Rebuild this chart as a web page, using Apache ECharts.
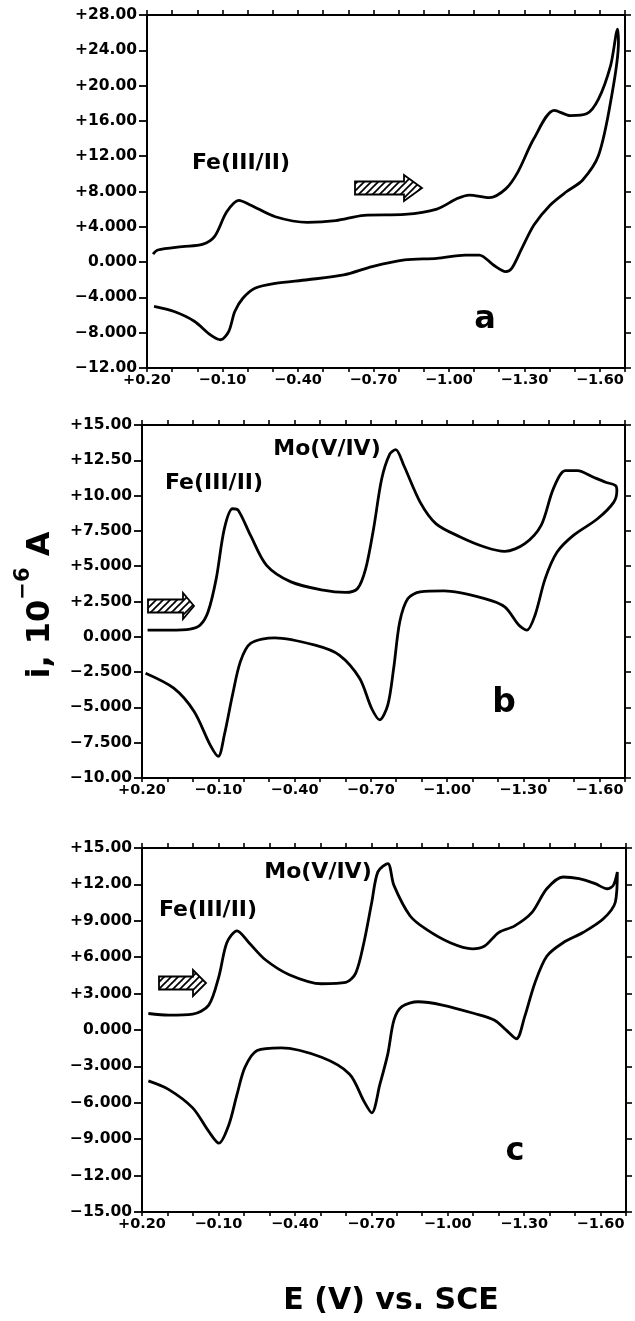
<!DOCTYPE html>
<html>
<head>
<meta charset="utf-8">
<script src="https://cdn.jsdelivr.net/npm/echarts@6/dist/echarts.min.js"></script>
<style>
html, body { margin: 0; padding: 0; background: #fff; }
#chart { width: 635px; height: 1321px; }
</style>
</head>
<body>
<div id="chart"></div>
<script>
'use strict';

// E in V vs. SCE, i in 10^-6 A; forward scan to -1.7 V, then the return scan
const aE = [0.176, 0.157, 0.06, -0.02, -0.068, -0.117, -0.165, -0.213, -0.31, -0.438, -0.55, -0.663, -0.824, -0.952, -1.033, -1.081, -1.161, -1.226, -1.274, -1.338, -1.419, -1.483, -1.547, -1.595, -1.643, -1.671,
    -1.674, -1.645, -1.595, -1.531, -1.467, -1.402, -1.338, -1.29, -1.25, -1.226, -1.177, -1.121, -1.065, -0.952, -0.824, -0.695, -0.582, -0.438, -0.31, -0.229, -0.181, -0.149, -0.125, -0.093, -0.052, 0.012, 0.092, 0.172];
const aI = [0.9, 1.37, 1.75, 2.0, 2.88, 5.7, 7.0, 6.45, 5.14, 4.5, 4.7, 5.3, 5.4, 6.0, 7.2, 7.6, 7.3, 8.3, 10.2, 14.0, 17.2, 16.6, 16.8, 18.5, 22.3, 26.4,
    24.9, 18.5, 12.1, 9.28, 7.97, 6.45, 4.2, 1.56, -0.7, -1.07, -0.33, 0.8, 0.8, 0.43, 0.24, -0.51, -1.45, -2.0, -2.4, -2.96, -4.1, -5.6, -7.85, -8.8, -8.24, -6.7, -5.6, -5.03];

const bE = [0.178, 0.09, 0.011, -0.029, -0.06, -0.092, -0.124, -0.156, -0.179, -0.227, -0.29, -0.386, -0.513, -0.6, -0.648, -0.68, -0.711, -0.743, -0.775, -0.798, -0.83, -0.894, -0.957, -1.052, -1.148, -1.227, -1.306, -1.37, -1.418, -1.465, -1.513, -1.576, -1.624, -1.663, -1.668,
    -1.656, -1.592, -1.497, -1.433, -1.386, -1.346, -1.314, -1.282, -1.227, -1.148, -0.989, -0.894, -0.846, -0.814, -0.79, -0.767, -0.735, -0.703, -0.656, -0.576, -0.481, -0.322, -0.227, -0.187, -0.156, -0.124, -0.1, -0.068, -0.005, 0.075, 0.186];
const bI = [0.47, 0.47, 0.54, 0.83, 1.77, 4.12, 7.66, 9.07, 8.95, 7.18, 5.06, 3.89, 3.3, 3.14, 3.42, 4.83, 7.66, 11.19, 12.95, 13.26, 12.13, 9.54, 8.0, 7.07, 6.36, 6.05, 6.6, 7.89, 10.48, 11.77, 11.77, 11.3, 10.95, 10.71, 10.36,
    9.54, 8.36, 7.18, 6.0, 4.12, 1.53, 0.47, 0.83, 2.12, 2.71, 3.25, 3.18, 2.71, 1.06, -2.23, -4.82, -5.88, -5.06, -2.94, -1.29, -0.59, -0.07, -0.47, -1.76, -4.12, -6.94, -8.47, -7.65, -5.29, -3.64, -2.58];

const cE = [0.175, 0.096, 0.001, -0.062, -0.102, -0.133, -0.173, -0.22, -0.283, -0.378, -0.505, -0.6, -0.639, -0.671, -0.702, -0.726, -0.765, -0.789, -0.852, -0.915, -1.01, -1.097, -1.145, -1.2, -1.263, -1.331, -1.389, -1.453, -1.516, -1.579, -1.626, -1.65, -1.666,
    -1.658, -1.61, -1.531, -1.453, -1.389, -1.342, -1.302, -1.27, -1.231, -1.184, -1.105, -0.979, -0.884, -0.82, -0.789, -0.765, -0.734, -0.702, -0.671, -0.615, -0.505, -0.346, -0.252, -0.204, -0.173, -0.141, -0.102, -0.062, 0.001, 0.096, 0.175];
const cI = [1.36, 1.22, 1.3, 2.05, 4.42, 7.19, 8.17, 7.19, 5.81, 4.56, 3.81, 3.92, 4.69, 7.19, 10.53, 13.03, 13.72, 11.92, 9.42, 8.31, 7.19, 6.69, 6.92, 8.03, 8.58, 9.69, 11.64, 12.61, 12.47, 12.06, 11.64, 11.92, 13.03,
    10.53, 9.14, 8.03, 7.19, 6.08, 3.86, 1.08, -0.72, -0.03, 0.81, 1.36, 2.06, 2.33, 1.92, 0.81, -1.97, -4.47, -6.83, -5.86, -3.64, -2.25, -1.47, -1.69, -3.08, -5.31, -7.81, -9.33, -8.36, -6.42, -4.89, -4.19];

// current axis ranges per panel
const iMin = [-12, -10, -15];
const iMax = [28, 15, 15];
const iStep = [4, 2.5, 3];
const eMin = -1.7;
const eMax = 0.2;

const FONT = 'DejaVu Sans';
const grids = [
    {left: 147, top: 15, width: 478, height: 353},
    {left: 142, top: 425, width: 483, height: 353},
    {left: 142, top: 848, width: 484, height: 364}
];
const curves = [[aE, aI], [bE, bI], [cE, cI]];

function fmtI(v) {
    if (Math.abs(v) < 1e-9) return '0.000';
    const a = Math.abs(v);
    return (v > 0 ? '+' : '\u2212') + (a >= 10 ? a.toFixed(2) : a.toFixed(3));
}

function fmtE(v) {
    const k = Math.round((eMax - v) * 10);
    if (k % 3 !== 0) return '';
    const r = Math.round(v * 100) / 100;
    return (r > 0 ? '+' : '\u2212') + Math.abs(r).toFixed(2);
}

// hatch pattern for the scan direction arrows
const hatch = document.createElement('canvas');
hatch.width = 7;
hatch.height = 7;
const hctx = hatch.getContext('2d');
hctx.fillStyle = '#fff';
hctx.fillRect(0, 0, 7, 7);
hctx.strokeStyle = '#000';
hctx.lineWidth = 1.7;
[-7, 0, 7].forEach(o => {
    hctx.beginPath();
    hctx.moveTo(o - 1, 8);
    hctx.lineTo(o + 8, -1);
    hctx.stroke();
});

function arrow(x0, xb, xt, yc, bh, hh) {
    return {
        type: 'polygon',
        shape: {points: [[x0, yc - bh], [xb, yc - bh], [xb, yc - hh], [xt, yc], [xb, yc + hh], [xb, yc + bh], [x0, yc + bh]]},
        style: {fill: {image: hatch, repeat: 'repeat'}, stroke: '#000', lineWidth: 1.8}
    };
}

function label(text, x, y, size) {
    return {
        type: 'text', x, y,
        style: {text, align: 'center', verticalAlign: 'middle', fill: '#000',
            font: 'bold ' + size + 'px "' + FONT + '"'}
    };
}

const xAxes = [];
const yAxes = [];
const series = [];
grids.forEach((g, i) => {
    const line = {show: true, onZero: false, lineStyle: {color: '#000', width: 2}};
    xAxes.push({
        gridIndex: i, type: 'value', position: 'bottom', inverse: true,
        min: eMin, max: eMax, interval: 0.1,
        axisLine: line,
        axisTick: {show: true, length: 4, lineStyle: {color: '#000', width: 1.6}},
        axisLabel: {formatter: fmtE, margin: 5, color: '#000', fontFamily: FONT, fontWeight: 'bold', fontSize: 14.5},
        splitLine: {show: false}
    });
    xAxes.push({
        gridIndex: i, type: 'value', position: 'top', inverse: true,
        min: eMin, max: eMax, interval: 0.1,
        axisLine: line,
        axisTick: {show: true, length: 5, lineStyle: {color: '#000', width: 1.6}},
        axisLabel: {show: false},
        splitLine: {show: false}
    });
    yAxes.push({
        gridIndex: i, type: 'value', position: 'left',
        min: iMin[i], max: iMax[i], interval: iStep[i],
        axisLine: line,
        axisTick: {show: true, length: 8, lineStyle: {color: '#000', width: 1.8}},
        axisLabel: {formatter: fmtI, margin: 10, color: '#000', fontFamily: FONT, fontWeight: 'bold', fontSize: 15.5},
        splitLine: {show: false}
    });
    yAxes.push({
        gridIndex: i, type: 'value', position: 'right',
        min: iMin[i], max: iMax[i], interval: iStep[i],
        axisLine: line,
        axisTick: {show: true, length: 6, lineStyle: {color: '#000', width: 1.6}},
        axisLabel: {show: false},
        splitLine: {show: false}
    });
    const [E, I] = curves[i];
    series.push({
        type: 'line', xAxisIndex: 2 * i, yAxisIndex: 2 * i,
        data: E.map((e, k) => [e, I[k]]),
        showSymbol: false, smooth: 0.3, silent: true,
        lineStyle: {color: '#000', width: 2.8}
    });
});

const chart = echarts.init(document.getElementById('chart'), null, {renderer: 'canvas'});
chart.setOption({
    backgroundColor: '#fff',
    animation: false,
    grid: grids.map(g => Object.assign({containLabel: false}, g)),
    xAxis: xAxes,
    yAxis: yAxes,
    series,
    graphic: [
        label('Fe(III/II)', 241, 163, 22),
        arrow(355, 404, 422, 188, 6.5, 13),
        label('a', 485, 320, 32),

        label('Mo(V/IV)', 327, 449, 22),
        label('Fe(III/II)', 214, 483, 22),
        arrow(148, 183, 194, 606, 6.5, 13),
        label('b', 504, 703, 33),

        label('Mo(V/IV)', 318, 872, 22),
        label('Fe(III/II)', 208, 910, 22),
        arrow(159, 193, 206, 983, 6.5, 13),
        label('c', 515, 1152, 32),

        {
            type: 'text', x: 41, y: 605, rotation: Math.PI / 2,
            style: {
                text: 'i, 10{s|\u22126} A', align: 'center', verticalAlign: 'middle', fill: '#000',
                font: 'bold 32px "' + FONT + '"', lineHeight: 56,
                rich: {s: {font: 'bold 21px "' + FONT + '"', fill: '#000', lineHeight: 21, verticalAlign: 'top'}}
            }
        },
        label('E (V) vs. SCE', 391, 1301, 30)
    ]
});
</script>
</body>
</html>
